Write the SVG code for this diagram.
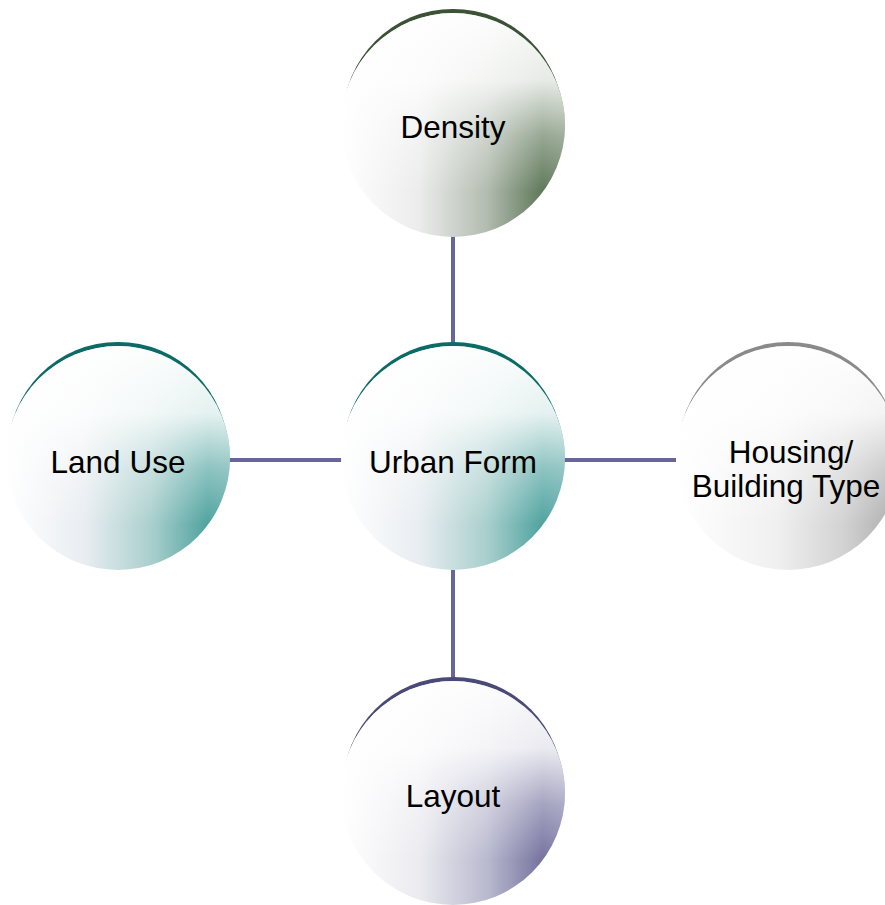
<svg xmlns="http://www.w3.org/2000/svg" width="885" height="905" viewBox="0 0 885 905">
<defs>
<style>
.lbl{font-family:"Liberation Sans",Arial,sans-serif;font-size:31.5px;fill:#000;text-anchor:middle}
.conn line{stroke:#66669a;stroke-width:4}
.veil{fill:url(#gVeil)}
</style>
<linearGradient id="gVeil" x1="0" y1="0" x2="0" y2="1">
<stop offset="0" stop-color="#ffffff" stop-opacity="0.97"/><stop offset="0.3" stop-color="#ffffff" stop-opacity="0.85"/><stop offset="0.55" stop-color="#ffffff" stop-opacity="0.35"/><stop offset="0.8" stop-color="#ffffff" stop-opacity="0"/>
</linearGradient>
<linearGradient id="gTeal" x1="0" y1="0" x2="1" y2="0">
<stop offset="0" stop-color="#ffffff"/><stop offset="0.35" stop-color="#e9edf1"/><stop offset="0.65" stop-color="#a9cfcd"/><stop offset="0.9" stop-color="#4fa39f"/><stop offset="1" stop-color="#5aa8a5"/>
</linearGradient>
<linearGradient id="gGreen" x1="0" y1="0" x2="1" y2="0">
<stop offset="0" stop-color="#ffffff"/><stop offset="0.35" stop-color="#ebeceb"/><stop offset="0.65" stop-color="#b3bcb0"/><stop offset="0.9" stop-color="#5f7859"/><stop offset="1" stop-color="#6c8366"/>
</linearGradient>
<linearGradient id="gGray" x1="0" y1="0" x2="1" y2="0">
<stop offset="0" stop-color="#ffffff"/><stop offset="0.45" stop-color="#f0f0f0"/><stop offset="0.75" stop-color="#d2d2d2"/><stop offset="1" stop-color="#a8a8a8"/>
</linearGradient>
<linearGradient id="gPurple" x1="0" y1="0" x2="1" y2="0">
<stop offset="0" stop-color="#ffffff"/><stop offset="0.35" stop-color="#ebebf0"/><stop offset="0.65" stop-color="#babacf"/><stop offset="0.9" stop-color="#75739f"/><stop offset="1" stop-color="#8280a8"/>
</linearGradient>
</defs>
<g id="connectors" class="conn">
<line x1="453" y1="236" x2="453" y2="346"/>
<line x1="453" y1="570" x2="453" y2="682"/>
<line x1="229" y1="460" x2="342" y2="460"/>
<line x1="564" y1="460" x2="676" y2="460"/>
</g>
<g id="density">
<circle cx="453" cy="119" r="110" fill="#3b5237"/>
<circle cx="453" cy="125" r="112" fill="url(#gGreen)"/>
<circle class="veil" cx="453" cy="125" r="112"/>
<text class="lbl" x="453" y="138">Density</text>
</g>
<g id="landuse">
<circle cx="118" cy="452" r="110" fill="#0d6b66"/>
<circle cx="118" cy="458" r="112" fill="url(#gTeal)"/>
<circle class="veil" cx="118" cy="458" r="112"/>
<text class="lbl" x="118" y="473">Land Use</text>
</g>
<g id="urbanform">
<circle cx="453" cy="452" r="110" fill="#0d6b66"/>
<circle cx="453" cy="458" r="112" fill="url(#gTeal)"/>
<circle class="veil" cx="453" cy="458" r="112"/>
<text class="lbl" x="453" y="473">Urban Form</text>
</g>
<g id="housing">
<circle cx="788" cy="452" r="110" fill="#8a8a8a"/>
<circle cx="788" cy="458" r="112" fill="url(#gGray)"/>
<circle class="veil" cx="788" cy="458" r="112"/>
<text class="lbl" x="791" y="463">Housing/</text>
<text class="lbl" x="786" y="497">Building Type</text>
</g>
<g id="layout">
<circle cx="453" cy="787" r="110" fill="#4a4a78"/>
<circle cx="453" cy="793" r="112" fill="url(#gPurple)"/>
<circle class="veil" cx="453" cy="793" r="112"/>
<text class="lbl" x="453" y="807">Layout</text>
</g>
</svg>
